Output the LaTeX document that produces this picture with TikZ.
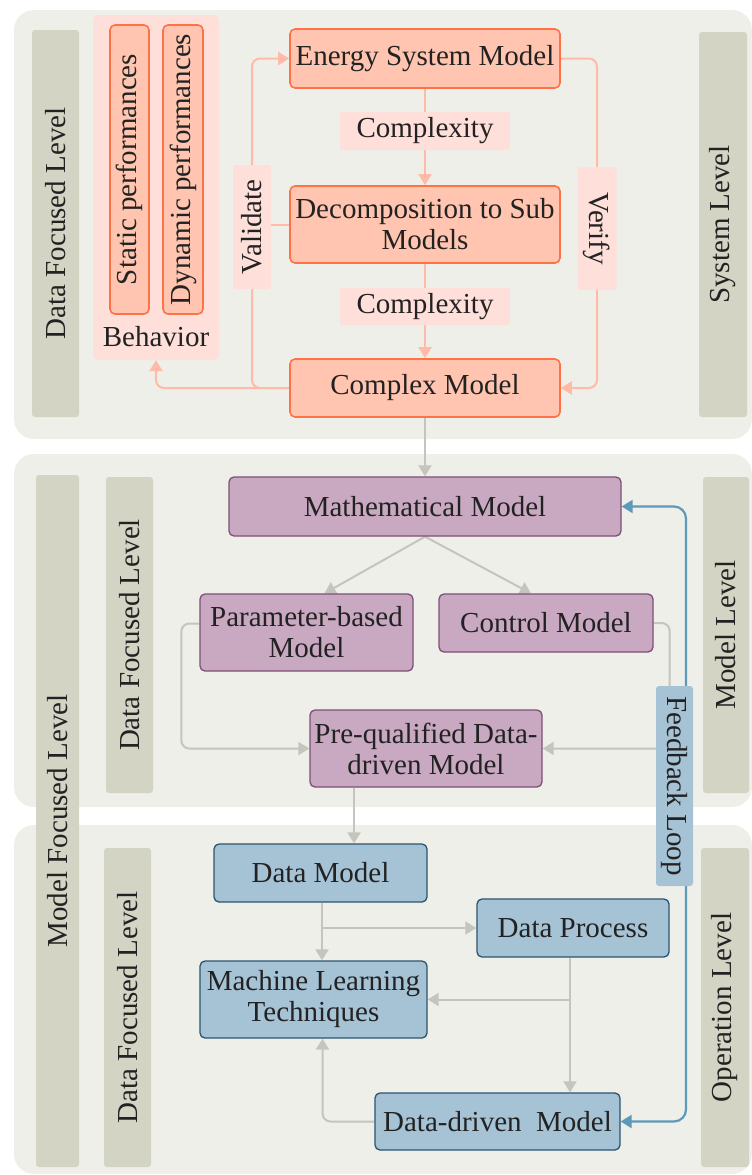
\documentclass[tikz,border=0pt]{standalone}
\usepackage{fontspec}
\setmainfont{Liberation Serif}
\usetikzlibrary{arrows.meta,calc}
\definecolor{panelc}{HTML}{EFEFEA}
\definecolor{barc}{HTML}{D3D4C3}
\definecolor{ofill}{HTML}{FFC5B0}
\definecolor{oline}{HTML}{FF7248}
\definecolor{lpink}{HTML}{FEDFD9}
\definecolor{oedgec}{HTML}{FFBBA8}
\definecolor{pfill}{HTML}{C9A8C2}
\definecolor{pline}{HTML}{7D4F74}
\definecolor{bfill}{HTML}{A6C3D6}
\definecolor{bline}{HTML}{2A5570}
\definecolor{fedgec}{HTML}{5D99B8}
\definecolor{gedgec}{HTML}{C5C5BD}
\definecolor{txt}{HTML}{222222}
\newcommand\fsz{\fontsize{29}{31}\selectfont}
\pgfdeclarelayer{bg}
\pgfdeclarelayer{edges}
\pgfsetlayers{bg,edges,main}
\tikzset{
  sz/.style 2 args={minimum width=#1, minimum height=#2},
  box/.style={rounded corners=5pt, inner sep=0pt, align=center, font=\fsz, text=txt},
  obox/.style={box, fill=ofill, draw=oline, line width=1.6pt},
  pbox/.style={box, fill=pfill, draw=pline, line width=1.3pt},
  bbox/.style={box, fill=bfill, draw=bline, line width=1.3pt},
  lbl/.style={box, fill=lpink, rounded corners=2pt},
  barbox/.style={box, fill=barc, rounded corners=3pt, rotate=90},
  panel/.style={fill=panelc, rounded corners=20pt},
  tip/.style={-{Triangle[length=11pt,width=13pt]}},
  oedge/.style={draw=oedgec, line width=2pt, rounded corners=8pt},
  gedge/.style={draw=gedgec, line width=2pt, rounded corners=8pt},
  fedge/.style={draw=fedgec, line width=2.2pt, rounded corners=12pt},
}
\begin{document}
\begin{tikzpicture}[x=1pt,y=-1pt]
\useasboundingbox (0,0) rectangle (752,1175);
\begin{pgfonlayer}{bg}
  \fill[panel] (14,10) rectangle (752,439);
  \fill[panel] (14,454) rectangle (752,807);
  \fill[panel] (14,825) rectangle (752,1174);
  \node[barbox, sz={387}{47}] (dfl1) at (55.5,223.5) {Data Focused Level};
  \node[barbox, sz={385}{48}] (sysl) at (723,224.5) {System Level};
  \node[barbox, sz={692}{43}] (mfl) at (57.5,821) {Model Focused Level};
  \node[barbox, sz={316}{47}] (dfl2) at (129.5,635) {Data Focused Level};
  \node[barbox, sz={316}{46}] (modl) at (726,635) {Model Level};
  \node[barbox, sz={319}{47}] (dfl3) at (127.5,1007.5) {Data Focused Level};
  \node[barbox, sz={319}{48}] (opl) at (725,1007.5) {Operation Level};
\end{pgfonlayer}

% top panel
\node[lbl, rounded corners=6pt, sz={126}{345}] (behav) at (156,187.5) {};
\node[box] (behavt) at (156,337) {Behavior};
\node[obox, rotate=90, sz={289}{39}] (static) at (129.5,169.5) {Static performances};
\node[obox, rotate=90, sz={289}{40}] (dynamic) at (183,169.5) {Dynamic performances};
\node[lbl, rotate=90, sz={124}{38}] (valid) at (252,227) {Validate};
\node[lbl, rotate=-90, sz={123}{39}] (verify) at (597,228.5) {Verify};
\node[obox, sz={270}{59}] (energy) at (425,58.5) {Energy System Model};
\node[lbl, sz={170}{38}] (cx1) at (425,131) {Complexity};
\node[obox, sz={270}{77}] (decomp) at (425,224.5) {Decomposition to Sub\\Models};
\node[lbl, sz={170}{37}] (cx2) at (425,306.5) {Complexity};
\node[obox, sz={270}{58}] (complex) at (425,388) {Complex Model};

% middle panel
\node[pbox, sz={392}{59}] (math) at (425,506.5) {Mathematical Model};
\node[pbox, sz={213}{77}] (param) at (306.5,632.5) {Parameter-based\\Model};
\node[pbox, sz={214}{58}] (control) at (546,623) {Control Model};
\node[pbox, sz={232}{77}] (preq) at (426,748.5) {Pre-qualified Data-\\driven Model};
\node[box, fill=bfill, rounded corners=3pt, rotate=-90, sz={200}{37}] (fb) at (674.5,786) {Feedback Loop};

% bottom panel
\node[bbox, sz={213}{58}] (dm) at (320.5,873) {Data Model};
\node[bbox, sz={192}{58}] (dp) at (573,928) {Data Process};
\node[bbox, sz={227}{77}] (ml) at (313.5,999.5) {Machine Learning\\Techniques};
\node[bbox, sz={245}{57}] (dd) at (497.5,1121.5) {Data-driven\ \ Model};

\coordinate (fbx) at (686,0);
\coordinate (c1) at (354,0);
\coordinate (dmx) at ($(dm.south)+(1.5,0)$);
\coordinate (dpx) at ($(dp.south)+(-3,0)$);

\begin{pgfonlayer}{edges}
  \draw[oedge, tip] (energy.south) -- (decomp.north);
  \draw[oedge, tip] (decomp.south) -- (complex.north);
  \draw[oedge] (decomp.west) -- (decomp.west -| valid.east);
  \draw[oedge, tip] (complex.west) -| (valid.center) |- (energy.west);
  \draw[oedge, tip] (complex.west) -| (behav.south);
  \draw[oedge, tip] (energy.east) -| (verify.center) |- (complex.east);

  \draw[gedge, tip] (complex.south) -- (math.north);
  \draw[gedge, tip] (math.south) -- ($(param.north)+(18,0)$);
  \draw[gedge, tip] (math.south) -- ($(control.north)+(-15,0)$);
  \draw[gedge, tip] ($(param.west)+(0,-9)$) -- ++(-18,0) |- (preq.west);
  \draw[gedge, tip] (control.east) -- ++(16,0) |- (preq.east);
  \draw[fedge, tip] (fb.east -| fbx) |- (math.east);
  \draw[fedge, tip] (fb.west -| fbx) |- (dd.east);

  \draw[gedge, tip] (preq.south -| c1) -- (dm.north -| c1);
  \draw[gedge, tip] (dmx) -- (ml.north -| dmx);
  \draw[gedge, tip] (dmx |- dp.west) -- (dp.west);
  \draw[gedge, tip] (dpx) -- (dd.north -| dpx);
  \draw[gedge, tip] (dpx |- ml.east) -- (ml.east);
  \draw[gedge, tip] (dd.west) -| ($(ml.south)+(9,0)$);
\end{pgfonlayer}
\end{tikzpicture}
\end{document}
